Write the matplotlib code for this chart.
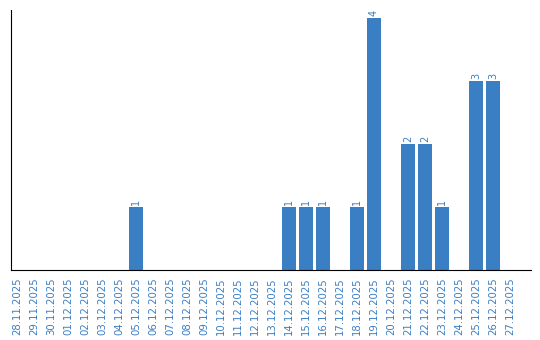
import matplotlib
matplotlib.use("Agg")
import matplotlib.pyplot as plt

dates = ['28.11.2025', '29.11.2025', '30.11.2025', '01.12.2025', '02.12.2025',
         '03.12.2025', '04.12.2025', '05.12.2025', '06.12.2025', '07.12.2025',
         '08.12.2025', '09.12.2025', '10.12.2025', '11.12.2025', '12.12.2025',
         '13.12.2025', '14.12.2025', '15.12.2025', '16.12.2025', '17.12.2025',
         '18.12.2025', '19.12.2025', '20.12.2025', '21.12.2025', '22.12.2025',
         '23.12.2025', '24.12.2025', '25.12.2025', '26.12.2025', '27.12.2025']
counts = [0, 0, 0, 0, 0, 0, 0, 1, 0, 0,
          0, 0, 0, 0, 0, 0, 1, 1, 1, 0,
          1, 4, 0, 2, 2, 1, 0, 3, 3, 0]

color = '#3a7ec4'

fig = plt.figure(figsize=(5.4, 3.4), dpi=100)
ax = fig.add_axes([11 / 540, 70 / 340, 520 / 540, 260 / 340])

x = range(len(dates))
ax.bar(x, counts, width=14 / 17, color=color)
for i, v in enumerate(counts):
    if v > 0:
        ax.text(i, v + 0.03, str(v), rotation=90, ha='center', va='bottom',
                color=color, fontsize=7)

ax.set_xlim(-0.35, 30.24)
ax.set_ylim(0, 260 / 63)
ax.set_xticks(list(x))
ax.set_xticklabels(dates, rotation=90, color=color, fontsize=7.3)
ax.tick_params(axis='x', length=0, pad=5)
ax.set_yticks([])
ax.spines['top'].set_visible(False)
ax.spines['right'].set_visible(False)

fig.savefig('out.png', dpi=100)
